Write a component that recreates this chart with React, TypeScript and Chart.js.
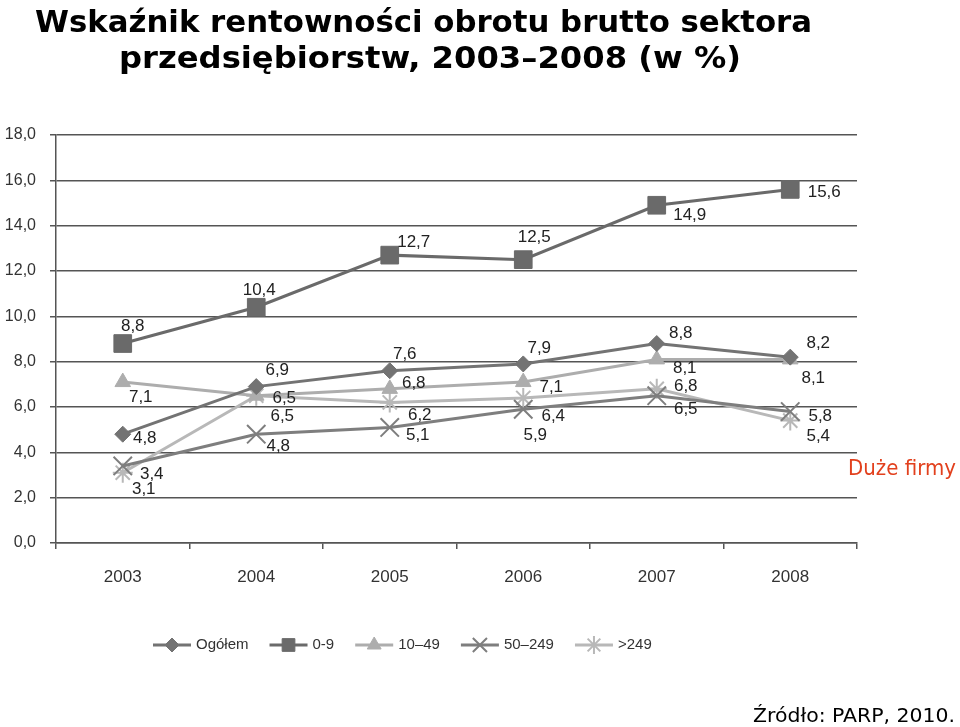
import React, { useEffect, useRef } from 'react';
import { Chart, registerables } from 'chart.js';
import { drawPoint } from 'chart.js/helpers';

Chart.register(...registerables);

// ---- data ----
const years = ['2003', '2004', '2005', '2006', '2007', '2008'];
const seriesNames = ['Ogółem', '0-9', '10–49', '50–249', '>249'];
const ogolem = [4.8, 6.9, 7.6, 7.9, 8.8, 8.2];
const micro = [8.8, 10.4, 12.7, 12.5, 14.9, 15.6];
const small = [7.1, 6.5, 6.8, 7.1, 8.1, 8.1];
const medium = [3.4, 4.8, 5.1, 5.9, 6.5, 5.8];
const large = [3.1, 6.5, 6.2, 6.4, 6.8, 5.4];
const yMin = 0;
const yMax = 18;
const yStep = 2;

const titleLine1 = 'Wskaźnik rentowności obrotu brutto sektora';
const titleLine2 = 'przedsiębiorstw, 2003–2008 (w %)';
const sideNote = 'Duże firmy';
const sourceText = 'Źródło: PARP, 2010.';

// ---- styles ----
const seriesStyles = [
  { color: '#737373', point: 'rectRot', radius: 8, legendRadius: 7, bw: 1 },
  { color: '#6a6a6a', point: 'rect', radius: 12.5, legendRadius: 9, bw: 1 },
  { color: '#adadad', point: 'triangle', radius: 9, legendRadius: 8, bw: 1 },
  { color: '#7e7e7e', point: 'crossRot', radius: 13, legendRadius: 10, bw: 2 },
  { color: '#b8b8b8', point: 'star', radius: 10, legendRadius: 9, bw: 2 },
];

// label offsets (dx, dy) relative to each point
const labelOffsets = [
  [[22, 4], [21, -16], [15, -16], [16, -16], [24, -10], [28, -14]],
  [[10, -17], [3, -17], [24, -13], [11, -22], [33, 10], [34, 3]],
  [[18, 15], [28, 3], [24, -6], [28, 5], [28, 9], [23, 19]],
  [[29, 8], [22, 12], [28, 8], [12, 26], [29, 14], [30, 5]],
  [[21, 17], [26, 21], [30, 13], [30, 18], [29, -3], [28, 16]],
];

const fmt = (v: number) => v.toFixed(1).replace('.', ',');

function fillFit(ctx: CanvasRenderingContext2D, text: string, x: number, y: number, target: number) {
  const w = ctx.measureText(text).width;
  ctx.save();
  ctx.translate(x, y);
  ctx.scale(target / w, 1);
  ctx.fillText(text, 0, 0);
  ctx.restore();
}

const decorPlugin = {
  id: 'decor',
  afterDatasetsDraw(chart: any) {
    const ctx = chart.ctx;
    ctx.save();
    ctx.fillStyle = '#222';
    ctx.font = '17px "Liberation Sans", Arial, sans-serif';
    ctx.textAlign = 'center';
    ctx.textBaseline = 'middle';
    chart.data.datasets.forEach((ds: any, i: number) => {
      const meta = chart.getDatasetMeta(i);
      meta.data.forEach((pt: any, j: number) => {
        const off = labelOffsets[i][j];
        ctx.fillText(fmt(ds.data[j]), pt.x + off[0], pt.y + off[1]);
      });
    });
    ctx.restore();
  },
  afterDraw(chart: any) {
    const ctx = chart.ctx;
    ctx.save();
    // title
    ctx.fillStyle = '#000';
    ctx.textAlign = 'left';
    ctx.textBaseline = 'alphabetic';
    ctx.font = 'bold 30px "DejaVu Sans", Verdana, sans-serif';
    fillFit(ctx, titleLine1, 35, 32, 777);
    fillFit(ctx, titleLine2, 119, 68, 622);
    // side note
    ctx.fillStyle = '#e2401d';
    ctx.font = '21px "DejaVu Sans", Verdana, sans-serif';
    fillFit(ctx, sideNote, 848, 475, 108);
    // source
    ctx.fillStyle = '#000';
    ctx.font = '20px "DejaVu Sans", Verdana, sans-serif';
    fillFit(ctx, sourceText, 753, 722, 202);

    // legend
    const ly = 645;
    let x = 153;
    const lineLen = 38;
    ctx.font = '15px "Liberation Sans", Arial, sans-serif';
    ctx.textBaseline = 'middle';
    seriesNames.forEach((name, i) => {
      const st = seriesStyles[i];
      ctx.strokeStyle = st.color;
      ctx.lineWidth = 3;
      ctx.beginPath();
      ctx.moveTo(x, ly);
      ctx.lineTo(x + lineLen, ly);
      ctx.stroke();
      ctx.fillStyle = st.color;
      ctx.strokeStyle = st.color;
      ctx.lineWidth = st.bw;
      drawPoint(ctx, { pointStyle: st.point, radius: st.legendRadius, rotation: 0, borderWidth: st.bw } as any, x + lineLen / 2, ly);
      ctx.fillStyle = '#333';
      ctx.fillText(name, x + lineLen + 5, ly);
      const w = ctx.measureText(name).width;
      x = x + lineLen + 5 + w + 21;
    });
    ctx.restore();
  },
};

export default function App() {
  const ref = useRef<HTMLCanvasElement | null>(null);
  useEffect(() => {
    if (!ref.current) return;
    const series = [ogolem, micro, small, medium, large];
    const chart = new Chart(ref.current, {
      type: 'line',
      data: {
        labels: years,
        datasets: series.map((d, i) => ({
          label: seriesNames[i],
          data: d,
          borderColor: seriesStyles[i].color,
          backgroundColor: seriesStyles[i].color,
          pointBackgroundColor: seriesStyles[i].color,
          pointBorderColor: seriesStyles[i].color,
          pointStyle: seriesStyles[i].point as any,
          pointRadius: seriesStyles[i].radius,
          pointBorderWidth: seriesStyles[i].bw,
          borderWidth: 3,
          tension: 0,
          fill: false,
        })),
      },
      options: {
        responsive: false,
        animation: false,
        layout: { padding: { top: 135, right: 103, left: 0, bottom: 0 } },
        plugins: {
          legend: { display: false },
          title: { display: false },
          tooltip: { enabled: false },
        },
        scales: {
          x: {
            offset: true,
            grid: {
              offset: true,
              drawOnChartArea: false,
              drawTicks: true,
              tickLength: 6,
              color: '#555',
              lineWidth: 1.5,
            },
            border: { display: true, color: '#555', width: 1.5 },
            ticks: {
              font: { family: '"Liberation Sans", Arial, sans-serif', size: 17 },
              color: '#333',
              padding: 18,
              maxRotation: 0,
            },
            afterFit: (s: any) => {
              s.height = 727 - 543;
            },
          },
          y: {
            min: yMin,
            max: yMax,
            ticks: {
              stepSize: yStep,
              callback: (v: any) => fmt(Number(v)),
              font: { family: '"Liberation Sans", Arial, sans-serif', size: 16 },
              color: '#333',
              padding: 14,
            },
            grid: { color: '#555', lineWidth: 1.5, tickLength: 6 },
            border: { display: true, color: '#555', width: 1.5 },
            afterFit: (s: any) => {
              s.width = 56;
            },
          },
        },
      },
      plugins: [decorPlugin],
    });
    return () => chart.destroy();
  }, []);
  return (
    <div style={{ position: 'absolute', left: 0, top: 0, width: 960, height: 727, background: '#fff' }}>
      <canvas ref={ref} width={960} height={727} style={{ display: 'block', width: 960, height: 727 }} />
    </div>
  );
}
